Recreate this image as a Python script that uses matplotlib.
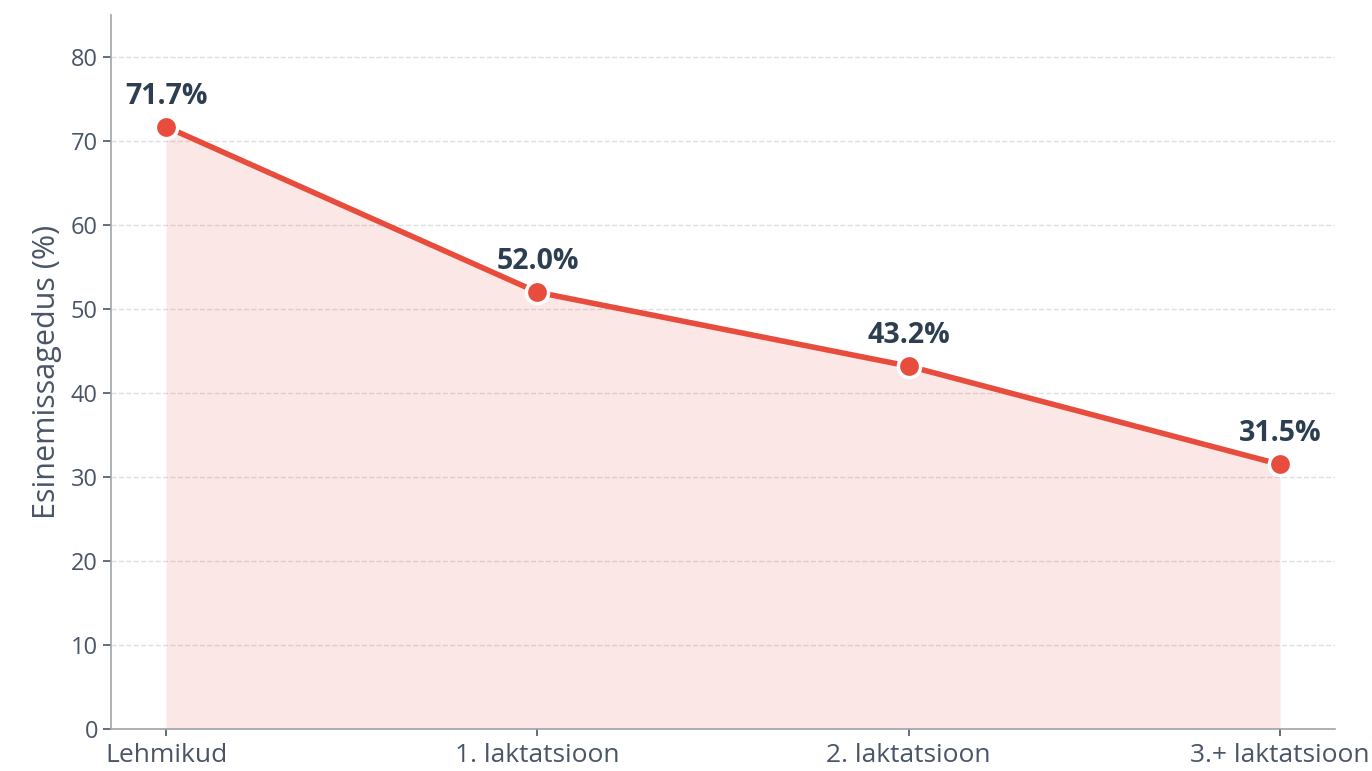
import matplotlib
matplotlib.use("Agg")
import matplotlib.pyplot as plt

plt.rcParams["font.family"] = ["Open Sans", "DejaVu Sans"]

categories = ["Lehmikud", "1. laktatsioon", "2. laktatsioon", "3.+ laktatsioon"]
prevalence = [71.7, 52.0, 43.2, 31.5]
y_ticks = [0, 10, 20, 30, 40, 50, 60, 70, 80]

line_color = "#e74c3c"
text_color = "#2c3e50"
tick_color = "#4a5568"

fig = plt.figure(figsize=(13.72, 7.71), dpi=100)
ax = fig.add_axes([0.081, 0.0545, 0.892, 0.926])

x = list(range(len(categories)))
ax.fill_between(x, prevalence, 0, color=line_color, alpha=0.13, linewidth=0, zorder=1)
ax.plot(x, prevalence, color=line_color, linewidth=4, zorder=3,
        marker="o", markersize=16, markerfacecolor=line_color,
        markeredgecolor="white", markeredgewidth=2.5)

for xi, v in zip(x, prevalence):
    ax.annotate("{:.1f}%".format(v), (xi, v), xytext=(0, 11.5), textcoords="offset points",
                ha="center", va="bottom", fontsize=20.5, fontweight="bold", color=text_color)

ax.set_xlim(-0.148, 3.148)
ax.set_ylim(0, 85)
ax.set_xticks(x)
ax.set_xticklabels(categories)
ax.set_yticks(y_ticks)
ax.set_ylabel("Esinemissagedus (%)", fontsize=22, color=tick_color, labelpad=6)

ax.grid(axis="y", linestyle="--", color="#d5d8dc", linewidth=1, alpha=0.8, zorder=0)
ax.set_axisbelow(True)
for side in ["top", "right"]:
    ax.spines[side].set_visible(False)
for side in ["left", "bottom"]:
    ax.spines[side].set_color("#a0a4a8")
    ax.spines[side].set_linewidth(1.2)
ax.tick_params(axis="both", labelsize=17, colors=tick_color, length=6, width=1.2)
ax.tick_params(axis="x", labelsize=19, length=5, pad=5)

fig.savefig("out.png", dpi=100)
